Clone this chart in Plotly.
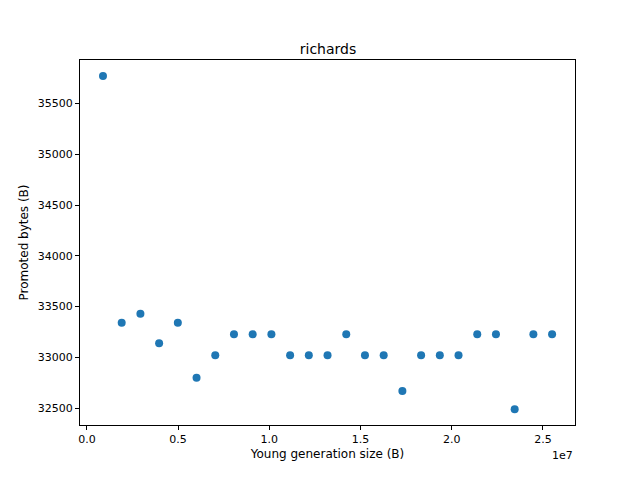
import plotly.graph_objects as go

young_size = [0.88e6 + 1.026e6 * i for i in range(25)]
promoted = [35770, 33340, 33430, 33140, 33340, 32800, 33020, 33227, 33227, 33227,
            33020, 33020, 33020, 33227, 33020, 33020, 32670, 33020, 33020, 33020,
            33227, 33227, 32490, 33227, 33227]

x_ticks = [0, 5e6, 1e7, 1.5e7, 2e7, 2.5e7]
x_labels = ['0.0', '0.5', '1.0', '1.5', '2.0', '2.5']
y_ticks = [32500, 33000, 33500, 34000, 34500, 35000, 35500]

fig = go.Figure(go.Scatter(
    x=young_size, y=promoted, mode='markers',
    marker=dict(color='#1f77b4', size=8)
))

axis = dict(showgrid=False, zeroline=False, showline=True, mirror=True,
            linecolor='black', linewidth=1, ticks='outside', ticklen=4,
            tickcolor='black', tickfont=dict(size=11, color='black'))

fig.update_layout(
    width=640, height=480,
    plot_bgcolor='white', paper_bgcolor='white',
    font=dict(family='DejaVu Sans', color='black'),
    title=dict(text='richards', x=0.5, xanchor='center', y=0.925, font=dict(size=14)),
    margin=dict(l=72, r=73, t=52, b=63),
    showlegend=False,
    xaxis=dict(axis, range=[-0.38e6, 2.676e7], tickvals=x_ticks, ticktext=x_labels,
               title=dict(text='Young generation size (B)', font=dict(size=12), standoff=4)),
    yaxis=dict(axis, range=[32334, 35928], tickvals=y_ticks, tickformat='d',
               title=dict(text='Promoted bytes (B)', font=dict(size=12), standoff=6)),
)
fig.add_annotation(text='1e7', xref='paper', yref='paper', x=1, y=-0.06,
                   xanchor='right', yanchor='top', showarrow=False, font=dict(size=11))

fig.write_html('out.html')
